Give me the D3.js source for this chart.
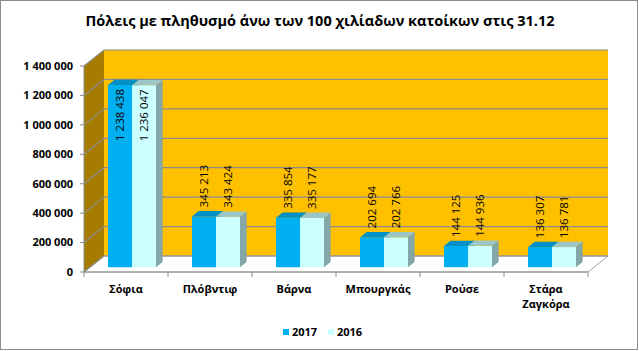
<!DOCTYPE html>
<html>
<head>
<meta charset="utf-8">
<script src="https://cdn.jsdelivr.net/npm/d3@7"></script>
<style>
  body { margin: 0; background: #fff; }
  svg text { font-family: "Open Sans", "Noto Sans", sans-serif; }
</style>
</head>
<body>
<div id="chart"></div>
<script>
// data
const cities = ["Σόφια", "Πλόβντιφ", "Βάρνα", "Μπουργκάς", "Ρούσε", "Στάρα Ζαγκόρα"];
const years = ["2017", "2016"];
const values2017 = [1238438, 345213, 335854, 202694, 144125, 136307];
const values2016 = [1236047, 343424, 335177, 202766, 144936, 136781];
const yTicks = [0, 200000, 400000, 600000, 800000, 1000000, 1200000, 1400000];

const W = 639, H = 351;
// depth offsets of the 3d box
const DX = 20, DY = 16;
const Z0 = 0.3, Z1 = 0.63; // bar depth inside the box

const colors = {
    "2017": {front: "#00B0F0", top: "#0090C4", side: "#0080AE"},
    "2016": {front: "#CCFFFF", top: "#9CC6C6", side: "#84A8A8"}
};

const svg = d3.select("#chart").append("svg")
    .attr("width", W)
    .attr("height", H);

// chart border
svg.append("rect")
    .attr("x", 0.5).attr("y", 0.5)
    .attr("width", W - 2).attr("height", H - 2)
    .attr("fill", "#fff")
    .attr("stroke", "#8c8c8c");

// title
svg.append("text")
    .attr("x", 320).attr("y", 26)
    .attr("text-anchor", "middle")
    .attr("font-size", 14.5)
    .attr("font-weight", "bold")
    .text("Πόλεις με πληθυσμό άνω των 100 χιλίαδων κατοίκων στις 31.12");

// scales (front plane)
const x = d3.scaleBand().domain(cities).range([84, 588]);
const xSub = d3.scaleBand().domain(years).range([0, x.bandwidth()]).paddingOuter(0.75);
const y = d3.scaleLinear().domain([0, 1400000]).range([272, 66]);

const px = (xx, z) => xx + z * DX;
const py = (yy, z) => yy - z * DY;
const pts = arr => arr.map(p => p.join(",")).join(" ");

const x0 = x.range()[0], x1 = x.range()[1];
const yTop = y(1400000), yBot = y(0);

// back wall
svg.append("polygon")
    .attr("points", pts([[px(x0, 1), py(yTop, 1)], [px(x1, 1), py(yTop, 1)], [px(x1, 1), py(yBot, 1)], [px(x0, 1), py(yBot, 1)]]))
    .attr("fill", "#FFC000");

// side wall
svg.append("polygon")
    .attr("points", pts([[x0, yTop], [px(x0, 1), py(yTop, 1)], [px(x0, 1), py(yBot, 1)], [x0, yBot]]))
    .attr("fill", "#A67C00");

// floor
svg.append("polygon")
    .attr("points", pts([[x0, yBot], [px(x0, 1), py(yBot, 1)], [px(x1, 1), py(yBot, 1)], [x1, yBot]]))
    .attr("fill", "#ffffff")
    .attr("stroke", "#a6a6a6")
    .attr("stroke-width", 1);

// gridlines
const grid = svg.append("g").attr("stroke", "#8c8c8c").attr("stroke-width", 1.2).attr("fill", "none");
yTicks.forEach(t => {
    grid.append("polyline")
        .attr("points", pts([[x0, y(t)], [px(x0, 1), py(y(t), 1)], [px(x1, 1), py(y(t), 1)]]));
});

// y axis line and labels
svg.append("line")
    .attr("x1", x0).attr("x2", x0)
    .attr("y1", yTop).attr("y2", yBot)
    .attr("stroke", "#8c8c8c");

const fmt = v => d3.format(",")(v).replace(/,/g, " ");
svg.append("g").selectAll("line")
    .data(yTicks).join("line")
    .attr("x1", x0 - 4).attr("x2", x0)
    .attr("y1", d => y(d)).attr("y2", d => y(d))
    .attr("stroke", "#8c8c8c");

svg.append("g").selectAll("text")
    .data(yTicks).join("text")
    .attr("x", 73)
    .attr("y", d => y(d))
    .attr("dy", "0.35em")
    .attr("text-anchor", "end")
    .attr("font-size", 11)
    .attr("font-weight", "bold")
    .text(d => fmt(d));

// x axis ticks
svg.append("line")
    .attr("x1", x0).attr("x2", x1)
    .attr("y1", yBot).attr("y2", yBot)
    .attr("stroke", "#8c8c8c");
const xEdges = cities.map(c => x(c)).concat([x1]);
svg.append("g").selectAll("line")
    .data(xEdges).join("line")
    .attr("x1", d => d).attr("x2", d => d)
    .attr("y1", yBot).attr("y2", yBot + 5)
    .attr("stroke", "#8c8c8c");

// category labels (wrap on space)
const catLabels = svg.append("g").selectAll("text")
    .data(cities).join("text")
    .attr("x", d => x(d) + x.bandwidth() / 2)
    .attr("y", 293)
    .attr("text-anchor", "middle")
    .attr("font-size", 11)
    .attr("font-weight", "bold");
catLabels.each(function(d) {
    const t = d3.select(this);
    d.split(" ").forEach((w, i) => {
        t.append("tspan")
            .attr("x", x(d) + x.bandwidth() / 2)
            .attr("dy", i === 0 ? 0 : 15)
            .text(w);
    });
});

// bars
const barData = [];
cities.forEach((c, i) => {
    barData.push({city: c, year: "2017", value: values2017[i]});
    barData.push({city: c, year: "2016", value: values2016[i]});
});

const bars = svg.append("g");
barData.forEach(d => {
    const bx0 = x(d.city) + xSub(d.year);
    const bx1 = bx0 + xSub.bandwidth();
    const yt = y(d.value), yb = y(0);
    const c = colors[d.year];
    const g = bars.append("g");
    // front face
    g.append("polygon")
        .attr("points", pts([[px(bx0, Z0), py(yt, Z0)], [px(bx1, Z0), py(yt, Z0)], [px(bx1, Z0), py(yb, Z0)], [px(bx0, Z0), py(yb, Z0)]]))
        .attr("fill", c.front);
    // top face
    g.append("polygon")
        .attr("points", pts([[px(bx0, Z0), py(yt, Z0)], [px(bx0, Z1), py(yt, Z1)], [px(bx1, Z1), py(yt, Z1)], [px(bx1, Z0), py(yt, Z0)]]))
        .attr("fill", c.top);
    // side face
    g.append("polygon")
        .attr("points", pts([[px(bx1, Z0), py(yt, Z0)], [px(bx1, Z1), py(yt, Z1)], [px(bx1, Z1), py(yb, Z1)], [px(bx1, Z0), py(yb, Z0)]]))
        .attr("fill", c.side);
});

// value labels
barData.forEach(d => {
    const cx = px(x(d.city) + xSub(d.year) + xSub.bandwidth() / 2, Z0);
    const yt = py(y(d.value), Z0);
    const inside = d.value > 1000000;
    const ly = inside ? yt + 4 : yt - 9;
    svg.append("text")
        .attr("transform", `translate(${cx},${ly}) rotate(-90)`)
        .attr("dy", "0.35em")
        .attr("text-anchor", inside ? "end" : "start")
        .attr("font-size", 11.5)
        .attr("fill", "#000")
        .text(fmt(d.value));
});

// legend
const legend = svg.append("g");
const legendX = [283, 328];
years.forEach((yr, i) => {
    legend.append("rect")
        .attr("x", legendX[i]).attr("y", 329)
        .attr("width", 6).attr("height", 6)
        .attr("fill", colors[yr].front);
    legend.append("text")
        .attr("x", legendX[i] + 9).attr("y", 332)
        .attr("dy", "0.35em")
        .attr("font-size", 11)
        .attr("font-weight", "bold")
        .text(yr);
});
</script>
</body>
</html>
